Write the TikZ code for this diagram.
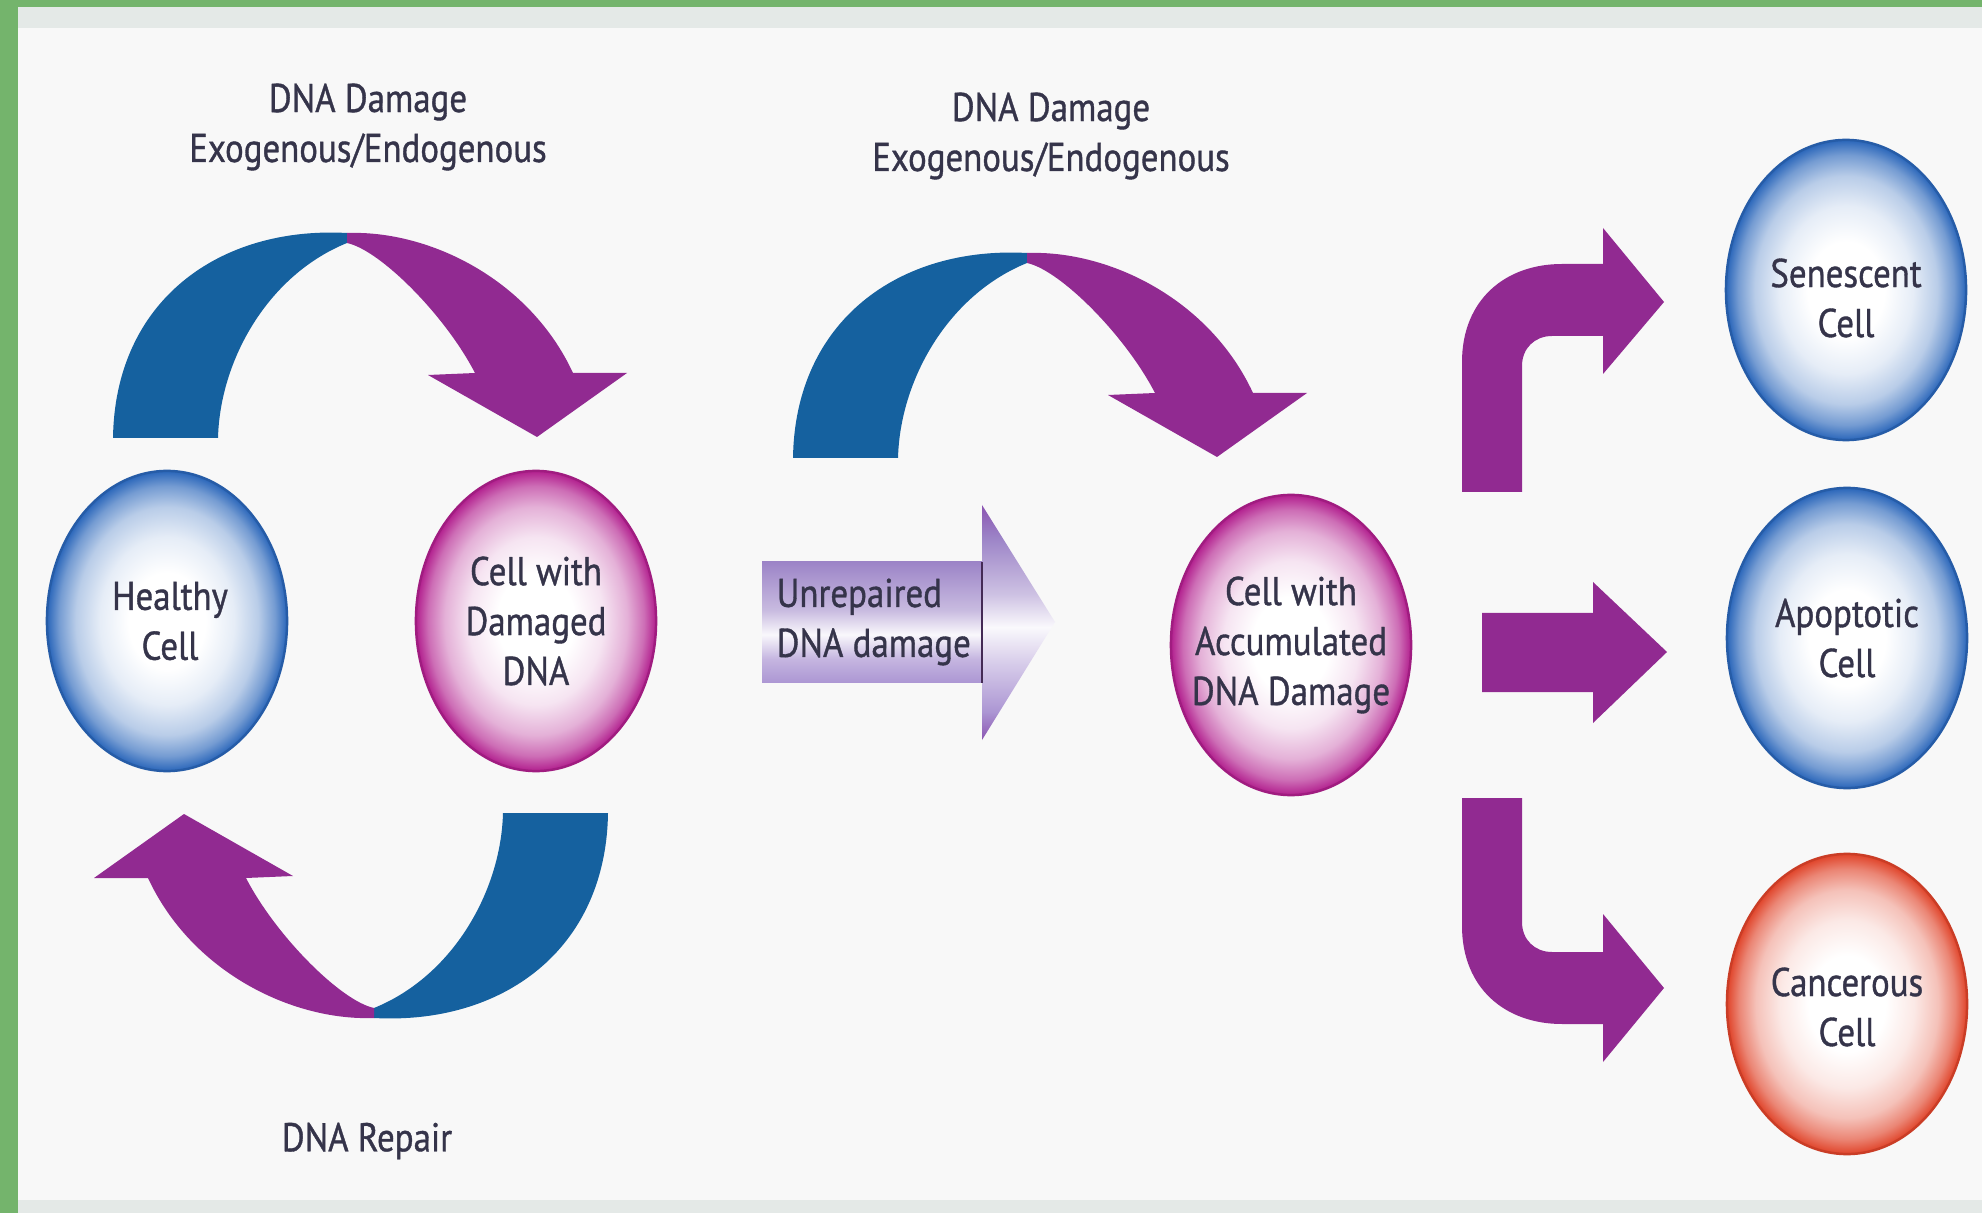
\documentclass[tikz,border=0pt]{standalone}
\usepackage{fontspec}
\setmainfont{PT Sans}[FakeStretch=0.87, FakeBold=0.9]
\usetikzlibrary{shapes.geometric}

\definecolor{txt}{HTML}{35344A}
\definecolor{arcblue}{HTML}{15619F}
\definecolor{arcpurp}{HTML}{912A91}
\definecolor{cblue}{HTML}{2A66BA}
\definecolor{cpink}{HTML}{B21F8E}
\definecolor{cred}{HTML}{E0442A}
\definecolor{lavT}{HTML}{9C84C7}
\definecolor{lavB}{HTML}{AC96D3}
\definecolor{headdark}{HTML}{8B55B2}
\definecolor{frame}{HTML}{74B46C}
\definecolor{strip}{HTML}{E4E9E7}
\definecolor{paper}{HTML}{F8F8F8}

% cell fills: white core fading to a coloured rim
\pgfdeclareradialshading{cellB}{\pgfpoint{0bp}{0bp}}{color(0bp)=(white); color(8bp)=(white); color(14bp)=(cblue!12!white); color(19bp)=(cblue!33!white); color(22.5bp)=(cblue!65!white); color(25bp)=(cblue); color(50bp)=(cblue)}
\pgfdeclareradialshading{cellP}{\pgfpoint{0bp}{0bp}}{color(0bp)=(white); color(8bp)=(white); color(14bp)=(cpink!12!white); color(19bp)=(cpink!35!white); color(22.5bp)=(cpink!65!white); color(25bp)=(cpink); color(50bp)=(cpink)}
\pgfdeclareradialshading{cellR}{\pgfpoint{0bp}{0bp}}{color(0bp)=(white); color(8bp)=(white); color(14bp)=(cred!12!white); color(19bp)=(cred!33!white); color(22.5bp)=(cred!65!white); color(25bp)=(cred); color(50bp)=(cred)}
% lavender band of the "unrepaired" arrow
\pgfdeclareverticalshading{unrepbody}{100bp}{color(0bp)=(lavB); color(25bp)=(lavB); color(35bp)=(lavB!70!white); color(45bp)=(white!94!lavT); color(55bp)=(lavT!55!white); color(75bp)=(lavT); color(100bp)=(lavT)}
\pgfdeclareverticalshading{unrephead}{100bp}{color(0bp)=(headdark); color(25bp)=(headdark); color(31bp)=(lavB); color(42bp)=(lavB!45!white); color(49bp)=(white!95!lavT); color(56bp)=(lavT!50!white); color(68bp)=(lavT); color(75bp)=(headdark); color(100bp)=(headdark)}

\tikzset{
  lbl/.style={font=\fontsize{11.4}{14.2}\selectfont, text=txt, align=center, inner sep=0pt},
  cellshape/.style={ellipse, minimum width=2.4cm, minimum height=3cm, inner sep=0pt, line width=0.7pt},
  bluecell/.style={cellshape, shading=cellB, draw=cblue!90!black},
  pinkcell/.style={cellshape, shading=cellP, draw=cpink!90!black},
  redcell/.style={cellshape, shading=cellR, draw=cred!90!black},
  % ribbon arc: blue tail rising, purple head coming down
  damagearc/.pic={
    \fill[arcblue] (113,438) -- (218,438) .. controls (220,360) and (268,275) .. (347,243)
      -- (347,233) .. controls (220,226) and (115,300) .. (113,438) -- cycle;
    \fill[arcpurp] (347,233) .. controls (430,230) and (530,280) .. (573,373)
      -- (627,373) -- (537,437) -- (428,375) -- (475,373)
      .. controls (445,315) and (380,250) .. (347,243) -- cycle;
  }
}

\begin{document}
\begin{tikzpicture}[x=0.01cm,y=-0.01cm]
\useasboundingbox (0,0) rectangle (1982,1213);
% page frame
\fill[paper] (0,0) rectangle (1982,1213);
\fill[strip] (0,0) rectangle (1982,28);
\fill[strip] (0,1200) rectangle (1982,1213);
\fill[frame] (0,0) rectangle (1982,7);
\fill[frame] (0,0) rectangle (18,1213);

% repair cycle
\pic at (0,0) {damagearc};
\pic[rotate=180] at (721,1251) {damagearc};
\pic at (680,20) {damagearc};

\node[lbl] (dmg1) at (368,127) {DNA Damage\\Exogenous/Endogenous};
\node[lbl] (dmg2) at (1051,136) {DNA Damage\\Exogenous/Endogenous};
\node[lbl] (repair) at (367,1141) {DNA Repair};

\node[bluecell] (healthy) at (167,621) {};
\node[lbl] (healthyT) at ([xshift=0.03cm]healthy.center) {Healthy\\Cell};
\node[pinkcell] (damaged) at (536,621) {};
\node[lbl] (damagedT) at (damaged.center) {Cell with\\Damaged\\DNA};

% unrepaired damage arrow
\shade[shading=unrepbody] (762,562) rectangle (982,683);
\shade[shading=unrephead] (982,505) -- (1055,622) -- (982,740) -- cycle;
\draw[line width=0.6pt, draw=txt!80!violet] (982,562) -- (982,683);
\node[lbl, align=left, anchor=west] (unrep) at (776,622) {Unrepaired\\DNA damage};

\node[pinkcell] (accum) at (1291,645) {};
\node[lbl] (accumT) at (accum.center) {Cell with\\Accumulated\\DNA Damage};

% fates
\fill[arcpurp] (1462,492) -- (1462,362) .. controls (1462,300) and (1505,264) .. (1562,264)
  -- (1603,264) -- (1603,228) -- (1664,302) -- (1603,374) -- (1603,336) -- (1552,336)
  .. controls (1535,336) and (1522,348) .. (1522,366) -- (1522,492) -- cycle;
\fill[arcpurp] (1482,613) -- (1593,613) -- (1593,582) -- (1667,652) -- (1593,723)
  -- (1593,692) -- (1482,692) -- cycle;
\fill[arcpurp] (1462,798) -- (1462,926) .. controls (1462,988) and (1505,1024) .. (1562,1024)
  -- (1603,1024) -- (1603,1062) -- (1664,988) -- (1603,914) -- (1603,952) -- (1552,952)
  .. controls (1535,952) and (1522,940) .. (1522,922) -- (1522,798) -- cycle;

\node[bluecell] (senes) at (1846,290) {};
\node[lbl] (senesT) at ([yshift=-0.08cm]senes.center) {Senescent\\Cell};
\node[bluecell] (apop) at (1847,638) {};
\node[lbl] (apopT) at (apop.center) {Apoptotic\\Cell};
\node[redcell] (cancer) at (1847,1004) {};
\node[lbl] (cancerT) at ([yshift=-0.03cm]cancer.center) {Cancerous\\Cell};
\end{tikzpicture}
\end{document}
